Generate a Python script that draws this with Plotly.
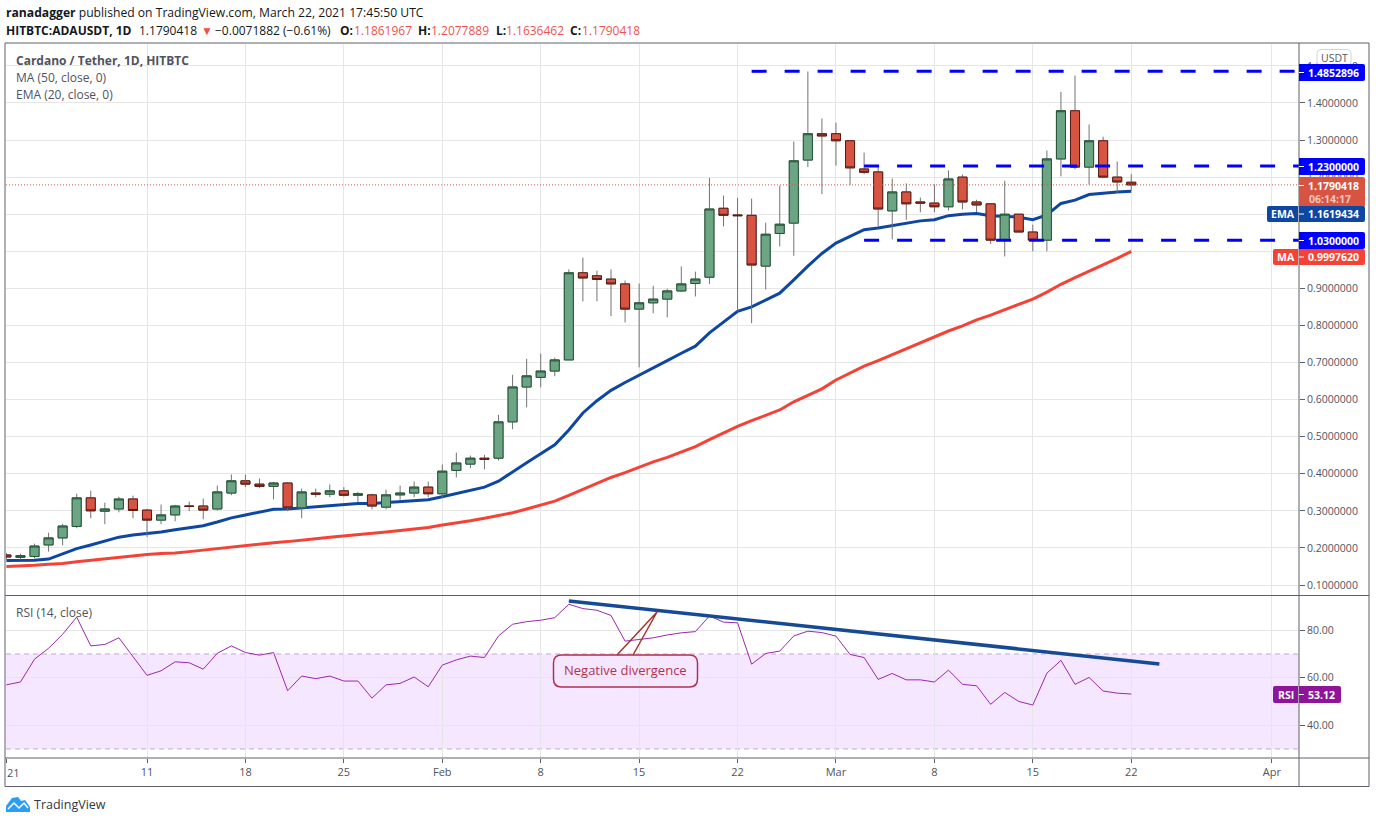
import pandas as pd
import plotly.graph_objects as go

W, H = 1376, 823
FONT = "Open Sans"

dates = pd.date_range("2021-01-01", periods=81)

opens = [.181, .1746, .177, .208, .227, .258, .335, .299, .305, .332, .302, .275, .289, .313, .313, .305, .348, .381, .372, .366,
         .375, .308, .348, .345, .354, .342, .343, .31, .343, .348, .364, .346, .409, .426, .442, .442, .54, .634, .66, .677,
         .707, .942, .934, .925, .912, .844, .861, .871, .893, .913, .93, 1.116, 1.098, 1.097, .96, 1.048, 1.076, 1.246, 1.317, 1.317,
         1.298, 1.222, 1.214, 1.109, 1.16, 1.133, 1.13, 1.12, 1.2, 1.133, 1.128, 1.03, 1.1, 1.052, 1.03, 1.249, 1.379, 1.227, 1.298, 1.2,
         1.1861967]
highs = [.186, .1845, .2115, .241, .265, .346, .354, .322, .338, .341, .305, .317, .316, .325, .333, .368, .398, .398, .387, .378,
         .378, .36, .36, .371, .364, .351, .346, .357, .368, .379, .379, .425, .457, .449, .451, .559, .667, .71, .724, .713,
         .951, .983, .948, .951, .921, .913, .907, .899, .959, .945, 1.198, 1.15, 1.144, 1.142, 1.077, 1.177, 1.296, 1.485, 1.358, 1.347,
         1.298, 1.266, 1.228, 1.196, 1.183, 1.145, 1.18, 1.218, 1.207, 1.139, 1.128, 1.19, 1.1, 1.072, 1.272, 1.43, 1.474, 1.342, 1.309, 1.242,
         1.2077889]
lows = [.17, .168, .172, .19, .207, .253, .28, .264, .296, .28, .23, .264, .272, .299, .277, .301, .342, .364, .361, .331,
        .299, .28, .337, .337, .338, .323, .304, .304, .33, .337, .337, .335, .39, .415, .412, .436, .52, .579, .633, .663,
        .707, .865, .865, .825, .808, .687, .833, .822, .89, .878, .912, 1.067, .838, .806, .897, 1.013, .988, 1.227, 1.154, 1.231,
        1.179, 1.208, 1.066, 1.032, 1.085, 1.105, 1.105, 1.11, 1.113, 1.106, 1.02, .986, 1.052, 1.0, 1.0, 1.202, 1.221, 1.18, 1.2, 1.157,
        1.1636462]
closes = [.1755, .179, .205, .227, .259, .335, .30, .305, .332, .301, .275, .289, .313, .312, .302, .351, .381, .372, .366, .375,
          .308, .351, .345, .354, .342, .346, .313, .343, .348, .364, .346, .407, .429, .442, .439, .54, .634, .664, .677, .707,
          .942, .928, .924, .912, .844, .861, .871, .893, .912, .925, 1.114, 1.097, 1.096, .963, 1.046, 1.073, 1.244, 1.317, 1.311, 1.298,
          1.225, 1.213, 1.114, 1.16, 1.128, 1.13, 1.12, 1.195, 1.133, 1.125, 1.03, 1.1, 1.052, 1.03, 1.249, 1.379, 1.227, 1.298, 1.2, 1.187,
          1.1790418]

ema20 = [.166, .1665, .167, .170, .184, .198, .208, .218, .229, .235, .238, .243, .249, .255, .26, .27, .281, .289, .296, .304,
         .305, .308, .312, .316, .318, .32, .32, .322, .326, .328, .33, .338, .347, .356, .364, .38, .406, .43, .454, .478,
         .518, .564, .597, .625, .646, .665, .685, .705, .725, .744, .78, .81, .838, .85, .869, .887, .923, .96, .994, 1.022,
         1.04, 1.058, 1.063, 1.07, 1.076, 1.082, 1.085, 1.096, 1.1, 1.102, 1.096, 1.094, 1.092, 1.085, 1.098, 1.129, 1.138, 1.153, 1.157, 1.16,
         1.1619434]
ma50 = [.15, .151, .153, .156, .158, .163, .167, .171, .176, .179, .182, .185, .186, .19, .194, .198, .203, .207, .211, .214,
        .217, .22, .225, .229, .232, .235, .238, .243, .247, .251, .255, .262, .267, .273, .28, .287, .295, .305, .315, .326,
        .342, .358, .372, .39, .403, .418, .432, .444, .459, .473, .492, .51, .528, .543, .557, .572, .594, .612, .629, .653,
        .671, .69, .705, .721, .738, .753, .768, .785, .799, .815, .828, .843, .857, .871, .89, .911, .929, .946, .964, .981,
        .999762]
rsi14 = [57, 58.2, 67.8, 72.4, 78.3, 85.5, 73.4, 74, 76.8, 68.9, 61, 62.9, 66.7, 66.3, 63.6, 70.3, 73.4, 70.6, 69.5, 70.6,
         54.5, 60.7, 59.6, 60.7, 58.6, 58.6, 51.4, 57, 57.6, 60.3, 56.2, 65.3, 67.5, 69.1, 68.5, 77.6, 82.5, 83.6, 84.2, 85.3,
         90.9, 89.1, 88.4, 86.2, 75.4, 76.1, 76.8, 78, 78.9, 79.4, 86, 83.4, 83.1, 65.7, 70.2, 71.2, 77.6, 79.6, 79, 77.5,
         69.8, 68.5, 59.3, 61.8, 59.1, 59.1, 58.2, 63.2, 57.2, 56.6, 48.8, 53.8, 50, 48.5, 61.9, 67.3, 57.2, 60.1, 54.4, 53.5,
         53.12]

# horizontal levels drawn on the chart: value, first day
level_values = [1.4852896, 1.23, 1.03]
level_starts = ["2021-02-23", "2021-03-03", "2021-03-03"]
last_price = 1.1790418

trend_x = ["2021-02-10", "2021-03-24"]
trend_y = [92.3, 65.8]

tick_dates = ["2021-01-01", "2021-01-11", "2021-01-18", "2021-01-25", "2021-02-01", "2021-02-08", "2021-02-15", "2021-02-22",
              "2021-03-01", "2021-03-08", "2021-03-15", "2021-03-22", "2021-04-01"]
tick_text = ["", "11", "18", "25", "Feb", "8", "15", "22", "Mar", "8", "15", "22", "Apr"]
price_ticks = [.1, .2, .3, .4, .5, .6, .7, .8, .9, 1.0, 1.1, 1.2, 1.3, 1.4, 1.5]
rsi_ticks = [40, 60, 80]

x_range = ["2020-12-31 23:19", "2021-04-02 22:19"]
price_range = [.07303, 1.5590]
rsi_range = [26.2, 94.4]

GRID = "#e6e6e6"
FRAME = "#5d606b"
TEXT = "#50535e"
GREEN, GREEN_DARK = "#6ba583", "#225437"
RED, RED_DARK = "#d75442", "#5b1a13"
BLUE = "#0000ff"
EMA_BLUE = "#0d47a1"
MA_RED = "#f44336"
PURPLE = "#8e1599"


def px(x):
    return x / W


def py(y):
    return 1 - y / H


def box_path(x0, y0, x1, y1, rl=0, rr=2):
    # rectangle in pixels, rl / rr are the corner radius left and right
    return (f"M {px(x0 + rl)} {py(y0)} L {px(x1 - rr)} {py(y0)} Q {px(x1)} {py(y0)} {px(x1)} {py(y0 + rr)} "
            f"L {px(x1)} {py(y1 - rr)} Q {px(x1)} {py(y1)} {px(x1 - rr)} {py(y1)} L {px(x0 + rl)} {py(y1)} "
            f"Q {px(x0)} {py(y1)} {px(x0)} {py(y1 - rl)} L {px(x0)} {py(y0 + rl)} Q {px(x0)} {py(y0)} {px(x0 + rl)} {py(y0)} Z")


def line_path(points, close=False):
    s = "M " + " L ".join(f"{px(a)} {py(b)}" for a, b in points)
    return s + " Z" if close else s


shapes = []
annotations = []


def add_path(path, fill=None, color=None, width=0):
    shapes.append(dict(type="path", xref="paper", yref="paper", path=path, fillcolor=fill or "rgba(0,0,0,0)",
                       line=dict(color=color or "rgba(0,0,0,0)", width=width), layer="above"))


def add_text(text, x, y, size=11, color=TEXT, anchor="left"):
    annotations.append(dict(text=text, x=px(x), y=py(y), xref="paper", yref="paper", xanchor=anchor, yanchor="middle",
                            showarrow=False, font=dict(family=FONT, size=size, color=color), borderpad=0))


def price_tag(text, y0, y1, color, tag=None, tag_x=None, right=1365):
    add_path(box_path(1299, y0, right, y1), fill=color)
    add_path(line_path([(1299, (y0 + y1) / 2), (1304, (y0 + y1) / 2)]), color="#ffffff", width=1)
    add_text(f"<b>{text}</b>", (1299 + right) / 2 + 1.5, (y0 + y1) / 2, size=10.5, color="#ffffff", anchor="center")
    if tag:
        add_path(box_path(tag_x, y0, 1298, y1, rl=2, rr=0), fill=color)
        add_text(f"<b>{tag}</b>", (tag_x + 1298) / 2, (y0 + y1) / 2, size=10.5, color="#ffffff", anchor="center")


fig = go.Figure()

# moving averages go under the candles
fig.add_trace(go.Scatter(x=dates, y=ma50, mode="lines", line=dict(color=MA_RED, width=3), xaxis="x", yaxis="y"))
fig.add_trace(go.Scatter(x=dates, y=ema20, mode="lines", line=dict(color=EMA_BLUE, width=3), xaxis="x", yaxis="y"))

# wicks are grey and the outline is dark, so two candle layers
fig.add_trace(go.Candlestick(x=dates, open=opens, high=highs, low=lows, close=closes, xaxis="x", yaxis="y3",
                             increasing=dict(line=dict(color="#737375", width=1), fillcolor="rgba(0,0,0,0)"),
                             decreasing=dict(line=dict(color="#737375", width=1), fillcolor="rgba(0,0,0,0)")))
body_high = [max(o, c) for o, c in zip(opens, closes)]
body_low = [min(o, c) for o, c in zip(opens, closes)]
fig.add_trace(go.Candlestick(x=dates, open=opens, high=body_high, low=body_low, close=closes, xaxis="x", yaxis="y3",
                             increasing=dict(line=dict(color=GREEN_DARK, width=1), fillcolor=GREEN),
                             decreasing=dict(line=dict(color=RED_DARK, width=1), fillcolor=RED)))

for value, start in zip(level_values, level_starts):
    fig.add_trace(go.Scatter(x=[start, x_range[1]], y=[value, value], mode="lines", xaxis="x", yaxis="y3",
                             line=dict(color=BLUE, width=3, dash="15px,18px")))

fig.add_trace(go.Scatter(x=dates, y=rsi14, mode="lines", line=dict(color="#9c27b0", width=1), xaxis="x", yaxis="y2"))
fig.add_trace(go.Scatter(x=trend_x, y=trend_y, mode="lines", line=dict(color="#164a94", width=3.5), xaxis="x", yaxis="y2"))

# last price dotted line
shapes.append(dict(type="line", xref="x", yref="y", x0=x_range[0], x1=x_range[1], y0=last_price, y1=last_price,
                   line=dict(color=RED, width=1, dash="1px,2px"), layer="above"))
# rsi band
shapes.append(dict(type="rect", xref="x", yref="y2", x0=x_range[0], x1=x_range[1], y0=30, y1=70,
                   fillcolor="rgba(153,21,255,0.1)", line=dict(width=0), layer="below"))
for level in [30, 70]:
    shapes.append(dict(type="line", xref="x", yref="y2", x0=x_range[0], x1=x_range[1], y0=level, y1=level,
                       line=dict(color="#c0aac8", width=1, dash="5px,4px"), layer="below"))

# frame and separators
add_path(line_path([(5, 43), (1369, 43), (1369, 786.5), (5, 786.5)], close=True), color=FRAME, width=1)
add_path(line_path([(5, 595.5), (1369, 595.5)]), color=FRAME, width=1)
add_path(line_path([(5, 758), (1369, 758)]), color=FRAME, width=1)
add_path(line_path([(1299, 43), (1299, 786.5)]), color=FRAME, width=1)

# price labels on the right
add_path(box_path(1317, 49.5, 1351, 66, rl=4, rr=4), fill="#ffffff", color="#d1d4dc", width=1)
add_text("USDT", 1334, 58, size=10.5, anchor="center")
price_tag("1.4852896", 64, 81, BLUE)
price_tag("1.2300000", 158, 175, BLUE)
add_path(box_path(1299, 177, 1365, 207), fill=RED)
add_path(line_path([(1299, 185.5), (1304, 185.5)]), color="#ffffff", width=1)
add_text("<b>1.1790418</b>", 1333.5, 186, size=10.5, color="#ffffff", anchor="center")
add_text("<b>06:14:17</b>", 1330, 199, size=10.5, color="#f5c6be", anchor="center")
price_tag("1.1619434", 206, 222, EMA_BLUE, tag="EMA", tag_x=1267)
price_tag("1.0300000", 232, 249, BLUE)
price_tag("0.9997620", 249, 265, MA_RED, tag="MA", tag_x=1273)
price_tag("53.12", 686, 703, PURPLE, tag="RSI", tag_x=1273, right=1341)

# negative divergence callout
add_path(line_path([(617, 655), (657, 612), (633, 655)]), color="#a5342e", width=1.5)
add_path(box_path(553.5, 655, 697.5, 687, rl=8, rr=8), color="#b0314f", width=1.5)
add_text("Negative divergence", 625.5, 670, size=13, color="#b5304f", anchor="center")

# header and pane titles
HEAD = "#131722"
VALUE = "#ef5350"
add_text("<b>ranadagger</b> published on TradingView.com, March 22, 2021 17:45:50 UTC", 5, 13, size=12.15, color=HEAD)
add_text("<b>HITBTC:ADAUSDT, 1D</b>", 5, 30, size=12, color=HEAD)
add_text("1.1790418", 138, 30, size=12, color=HEAD)
add_text("▼", 200, 30, size=12, color=VALUE)
add_text("−0.0071882 (−0.61%)", 214, 30, size=12, color=HEAD)
for label, x_label, value, x_value in [("O:", 339, "1.1861967", 353), ("H:", 417, "1.2077889", 430),
                                       ("L:", 495, "1.1636462", 505), ("C:", 569, "1.1790418", 581)]:
    add_text(f"<b>{label}</b>", x_label, 30, size=12, color=HEAD)
    add_text(value, x_value, 30, size=12, color=VALUE)
add_text("<b>Cardano / Tether, 1D, HITBTC</b>", 15, 60.5, size=12)
add_text("MA (50, close, 0)", 15, 77.5, size=12)
add_text("EMA (20, close, 0)", 15, 94.5, size=12)
add_text("RSI (14, close)", 15, 612.5, size=12)
add_text("21", 13, 772, size=11, anchor="center")

# tradingview logo
add_path(line_path([(6, 812), (6, 806), (12, 798), (18, 797), (21, 801), (25, 800), (30, 807), (30, 812)], close=True), fill="#2a9df4")
add_path(line_path([(8, 809), (14, 803), (19, 808), (24, 803), (28, 808)]), color="#ffffff", width=1.5)
add_text("TradingView", 33, 804.5, size=12.5, color="#333740")

fig.update_layout(
    width=W, height=H, margin=dict(l=0, r=0, t=0, b=0), autosize=False,
    paper_bgcolor="#ffffff", plot_bgcolor="#ffffff", showlegend=False,
    boxmode="overlay", boxgap=0.08, hovermode=False,
    font=dict(family=FONT, size=11, color=TEXT),
    shapes=shapes, annotations=annotations,
    xaxis=dict(domain=[px(6), px(1299)], anchor="y2", type="date", range=x_range, tickmode="array",
               tickvals=tick_dates, ticktext=tick_text, showgrid=True, gridcolor=GRID, gridwidth=1,
               ticks="outside", ticklen=4, tickcolor=FRAME, showline=False, zeroline=False,
               rangeslider=dict(visible=False), tickfont=dict(size=11, color=TEXT)),
    yaxis=dict(domain=[py(595), py(44)], anchor="x", side="right", range=price_range, tickmode="array",
               tickvals=price_ticks, tickformat=".7f", showgrid=True, gridcolor=GRID, ticks="outside", ticklen=5,
               tickcolor=FRAME, zeroline=False, showline=False, tickfont=dict(size=10.5, color=TEXT)),
    yaxis2=dict(domain=[py(758), py(596)], anchor="x", side="right", range=rsi_range, tickmode="array",
                tickvals=rsi_ticks, tickformat=".2f", showgrid=True, gridcolor=GRID, ticks="outside", ticklen=5,
                tickcolor=FRAME, zeroline=False, showline=False, tickfont=dict(size=10.5, color=TEXT)),
    yaxis3=dict(overlaying="y", anchor="x", side="right", range=price_range, visible=False),
)

fig.write_html("out.html", config={"displayModeBar": False}, post_script="document.body.style.margin='0';")
